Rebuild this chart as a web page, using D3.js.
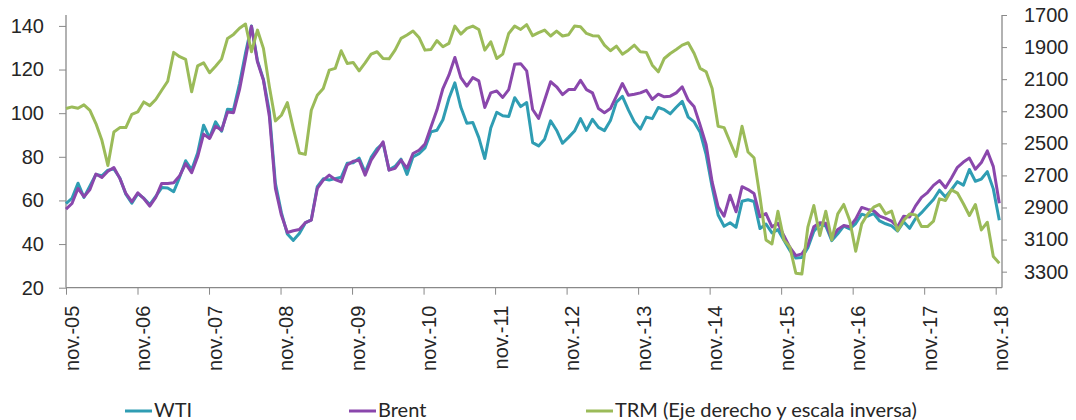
<!DOCTYPE html>
<html>

<head>
  <meta charset="utf-8">
  <title>WTI, Brent y TRM</title>
  <style>
    body {
      margin: 0;
      background: #ffffff;
    }
    svg {
      display: block;
      font-family: Lato, "Open Sans", sans-serif;
    }
    .axis text {
      fill: #262626;
      font-size: 20px;
    }
    .axis line {
      stroke: #898989;
    }
    .legend text {
      fill: #262626;
      font-size: 20px;
    }
  </style>
</head>

<body>
  <svg width="1076" height="420"></svg>

  <script src="https://cdnjs.cloudflare.com/ajax/libs/d3/7.8.5/d3.min.js"></script>
  <script>
    // etiquetas del eje x (una por año, nov.-05 ... nov.-18)
    const xTickLabels = ["nov.-05", "nov.-06", "nov.-07", "nov.-08", "nov.-09", "nov.-10", "nov.-11",
                         "nov.-12", "nov.-13", "nov.-14", "nov.-15", "nov.-16", "nov.-17", "nov.-18"];
    const leftTicks = [20, 40, 60, 80, 100, 120, 140];
    const rightTicks = [1700, 1900, 2100, 2300, 2500, 2700, 2900, 3100, 3300];

    // datos mensuales, nov-05 a nov-18 (fin de mes)
    const wti = [
      58.5, 61.0, 67.9, 61.4, 66.6, 71.9, 71.3, 73.9, 74.4, 70.3, 62.9, 58.7,
      63.1, 61.0, 58.1, 61.8, 65.9, 65.7, 64.0, 70.7, 78.2, 74.0, 81.7, 94.5,
      88.7, 96.0, 91.7, 101.8, 101.6, 113.5, 127.4, 140.0, 124.1, 115.5, 100.6, 67.8,
      54.4, 44.6, 41.7, 44.8, 49.7, 51.1, 66.3, 69.9, 69.4, 70.0, 70.6, 77.0,
      77.3, 79.4, 72.9, 79.7, 83.8, 86.2, 74.0, 75.6, 78.9, 71.9, 80.0, 81.4,
      84.1, 91.4, 92.2, 97.0, 106.7, 113.9, 102.7, 95.4, 95.7, 88.8, 79.2, 93.2,
      100.4, 98.8, 98.5, 107.1, 103.0, 104.9, 86.5, 85.0, 88.1, 96.5, 92.2, 86.2,
      88.9, 91.8, 97.5, 92.1, 97.2, 93.5, 92.0, 96.6, 105.1, 107.7, 101.5, 96.0,
      92.7, 98.2, 97.5, 102.6, 101.6, 99.7, 102.7, 105.4, 98.2, 96.0, 91.2, 81.0,
      66.2, 53.3, 48.2, 49.8, 47.7, 59.6, 60.3, 59.5, 47.1, 49.2, 45.1, 46.6,
      41.7, 37.0, 33.6, 33.8, 38.3, 45.9, 49.1, 48.3, 41.6, 44.7, 48.2, 46.9,
      49.4, 53.7, 52.8, 54.0, 50.6, 49.3, 48.3, 46.0, 50.2, 47.2, 51.7, 54.4,
      57.4, 60.4, 64.7, 61.6, 64.9, 68.6, 67.0, 74.2, 68.8, 69.8, 73.2, 65.3,
      50.9
    ];
    const brent = [
      56.0, 58.6, 65.5, 61.7, 65.0, 72.1, 70.5, 73.4, 75.1, 70.1, 63.2, 59.4,
      63.5, 60.9, 57.4, 61.4, 67.8, 67.8, 68.1, 71.3, 76.9, 72.7, 80.0, 90.4,
      88.4, 94.0, 92.2, 100.5, 100.2, 110.8, 125.0, 139.8, 123.5, 115.1, 98.3, 65.5,
      53.3, 45.3, 46.1, 46.7, 49.8, 51.0, 65.5, 69.3, 71.6, 69.6, 68.5, 76.2,
      78.0, 78.4, 71.6, 78.5, 82.6, 86.9, 73.9, 74.7, 78.5, 74.7, 81.5, 83.0,
      85.8, 93.7, 101.4, 111.3, 117.4, 125.5, 116.3, 112.4, 116.3, 114.8, 102.6, 109.3,
      110.2, 107.2, 110.8, 122.4, 122.7, 119.4, 101.7, 97.6, 106.0, 114.4, 112.1, 108.5,
      110.8, 110.8, 115.1, 110.8, 109.3, 102.1, 100.2, 102.1, 107.8, 113.6, 108.2, 108.7,
      109.3, 110.5, 106.3, 108.7, 107.5, 107.8, 109.3, 112.1, 106.0, 102.9, 94.5, 85.5,
      68.5, 57.1, 52.8, 62.4, 54.8, 66.3, 65.0, 63.2, 52.5, 54.0, 47.9, 49.5,
      43.8, 38.5, 34.7, 35.5, 39.5, 47.9, 49.8, 49.5, 42.6, 46.7, 48.5, 47.9,
      51.5, 56.8, 55.9, 55.3, 52.8, 51.8, 50.5, 47.9, 52.7, 52.4, 57.5, 61.4,
      63.6, 66.9, 69.1, 65.8, 70.3, 75.2, 77.6, 79.4, 74.3, 77.4, 82.7, 75.5,
      58.7
    ];
    const trm = [
      2283, 2273, 2281, 2260, 2294, 2377, 2481, 2638, 2429, 2402, 2402, 2319,
      2304, 2242, 2265, 2227, 2169, 2113, 1933, 1960, 1977, 2179, 2017, 1998,
      2060, 2019, 1975, 1846, 1821, 1783, 1756, 1929, 1794, 1908, 2148, 2360,
      2325, 2246, 2408, 2560, 2569, 2294, 2200, 2158, 2044, 2033, 1923, 2002,
      1996, 2048, 1998, 1944, 1929, 1971, 1973, 1919, 1846, 1825, 1800, 1840,
      1919, 1915, 1860, 1898, 1877, 1769, 1819, 1783, 1769, 1790, 1919, 1867,
      1971, 1944, 1815, 1769, 1790, 1760, 1829, 1810, 1794, 1831, 1800, 1831,
      1823, 1769, 1773, 1815, 1829, 1831, 1888, 1923, 1894, 1944, 1919, 1888,
      1929, 1933, 2013, 2054, 1971, 1940, 1915, 1888, 1873, 1940, 2033, 2054,
      2158, 2394, 2402, 2492, 2581, 2394, 2554, 2590, 2835, 3102, 3127, 2923,
      3102, 3148, 3310, 3315, 3023, 2888, 3075, 2923, 3102, 2940, 2881, 2981,
      3173, 3002, 2940, 2898, 2881, 2940, 2923, 3044, 2981, 2940, 2946, 3019,
      3019, 2985, 2846, 2856, 2790, 2810, 2877, 2950, 2881, 3040, 2992, 3206,
      3248
    ];

    const colors = { wti: "#2f9db3", brent: "#8a47ac", trm: "#9bbb59" };

    let svg = d3.select('svg');
    let plot = { left: 66, right: 1002, top: 15, bottom: 287.7 };

    let x = d3.scaleLinear()
              .domain([0, wti.length - 1])
              .range([plot.left, 999.3]);
    // posición de las marcas anuales del eje x
    let xYears = d3.scaleLinear()
                   .domain([0, xTickLabels.length - 1])
                   .range([plot.left, 995.7]);
    let yLeft = d3.scaleLinear()
                  .domain([20, 145])
                  .range([plot.bottom, plot.top]);
    // escala inversa para la TRM
    let yRight = d3.scaleLinear()
                   .domain([1700, 3400])
                   .range([plot.top, plot.bottom]);

    // eje izquierdo
    let gLeft = svg.append("g")
       .attr("class", "axis")
       .attr("transform", "translate(" + plot.left + ",0)")
       .call(d3.axisLeft(yLeft).tickValues(leftTicks).tickSize(7).tickPadding(15).tickSizeOuter(0));
    gLeft.select(".domain").remove();

    // eje derecho
    let gRight = svg.append("g")
       .attr("class", "axis")
       .attr("transform", "translate(" + plot.right + ",0)")
       .call(d3.axisRight(yRight).tickValues(rightTicks).tickFormat(d3.format("d"))
               .tickSize(5).tickPadding(17).tickSizeOuter(0));
    gRight.select(".domain").remove();

    // eje inferior con etiquetas verticales
    let gBottom = svg.append("g")
       .attr("class", "axis")
       .attr("transform", "translate(0," + plot.bottom + ")")
       .call(d3.axisBottom(xYears).tickValues(d3.range(xTickLabels.length))
               .tickFormat((d) => xTickLabels[d]).tickSize(7).tickSizeOuter(0));
    gBottom.select(".domain").remove();
    gBottom.selectAll("text")
       .attr("transform", "rotate(-90)")
       .attr("text-anchor", "end")
       .attr("x", -18)
       .attr("y", 5)
       .attr("dy", "0.35em");

    // marco de ejes
    let frame = svg.append("g").attr("stroke", "#898989").attr("stroke-width", 1.3);
    frame.append("line").attr("x1", plot.left).attr("x2", plot.left)
         .attr("y1", plot.top).attr("y2", plot.bottom);
    frame.append("line").attr("x1", plot.right).attr("x2", plot.right)
         .attr("y1", plot.top).attr("y2", plot.bottom);
    frame.append("line").attr("x1", plot.left).attr("x2", plot.right)
         .attr("y1", plot.bottom).attr("y2", plot.bottom);

    // series
    let lineLeft = d3.line().x((d, i) => x(i)).y((d) => yLeft(d));
    let lineRight = d3.line().x((d, i) => x(i)).y((d) => yRight(d));

    svg.append("path").datum(wti)
       .attr("d", lineLeft)
       .attr("fill", "none").attr("stroke", colors.wti)
       .attr("stroke-width", 3).attr("stroke-linejoin", "round");
    svg.append("path").datum(brent)
       .attr("d", lineLeft)
       .attr("fill", "none").attr("stroke", colors.brent)
       .attr("stroke-width", 3).attr("stroke-linejoin", "round");
    svg.append("path").datum(trm)
       .attr("d", lineRight)
       .attr("fill", "none").attr("stroke", colors.trm)
       .attr("stroke-width", 3).attr("stroke-linejoin", "round");

    // leyenda
    let legendItems = [
      { label: "WTI", color: colors.wti, x: 125 },
      { label: "Brent", color: colors.brent, x: 349 },
      { label: "TRM (Eje derecho y escala inversa)", color: colors.trm, x: 586 }
    ];
    let legend = svg.append("g").attr("class", "legend")
                    .selectAll("g")
                    .data(legendItems)
                    .enter().append("g")
                    .attr("transform", (d) => "translate(" + d.x + ",411)");
    legend.append("line")
          .attr("x1", 0).attr("x2", 27)
          .attr("stroke", (d) => d.color)
          .attr("stroke-width", 3);
    legend.append("text")
          .attr("x", 29)
          .attr("y", 6)
          .text((d) => d.label);
  </script>
</body>

</html>
